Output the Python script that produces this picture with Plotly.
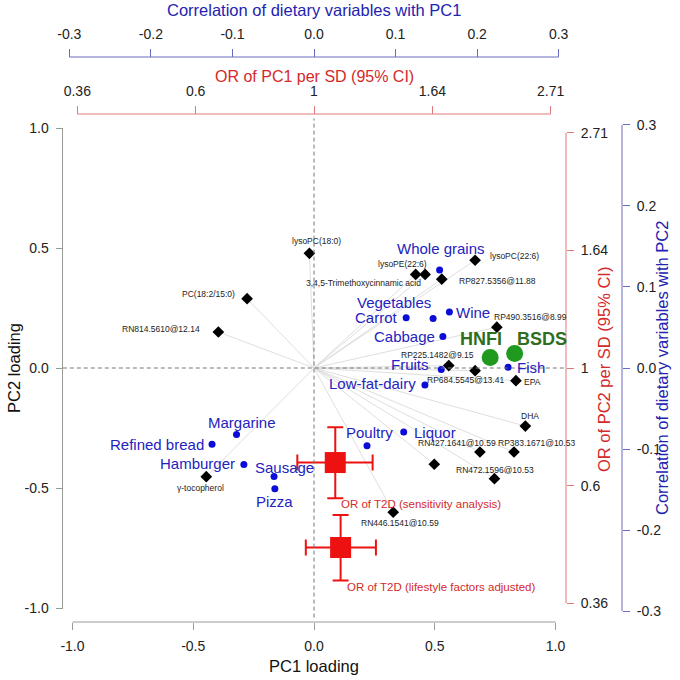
import numpy as np
import plotly.graph_objects as go

FONT = "Liberation Sans, Arial, sans-serif"

# ---------------- data ----------------
# metabolites: PC loadings
met_names = ["lysoPC(22:6)", "lysoPE(22:6)", "3,4,5-Trimethoxycinnamic acid", "RP827.5356@11.88",
             "RP490.3516@8.99", "RP225.1482@9.15", "RP684.5545@13.41", "EPA", "DHA",
             "RN427.1641@10.59", "RP383.1671@10.53", "RN472.1596@10.53", "",
             "RN446.1541@10.59", "γ-tocopherol", "PC(18:2/15:0)", "RN814.5610@12.14", "lysoPC(18:0)"]
met_pc1 = [0.667, 0.421, 0.460, 0.529, 0.757, 0.558, 0.667, 0.836, 0.875,
           0.687, 0.828, 0.747, 0.498, 0.328, -0.446, -0.277, -0.396, -0.019]
met_pc2 = [0.449, 0.390, 0.390, 0.370, 0.170, 0.010, -0.011, -0.053, -0.242,
           -0.350, -0.350, -0.461, -0.401, -0.601, -0.453, 0.289, 0.150, 0.478]

# dietary variables: correlations with PC1 / PC2
diet_names = ["Whole grains", "Vegetables", "Carrot", "Wine", "Cabbage", "Fruits", "Fish",
              "Low-fat-dairy", "Liquor", "Poultry", "Margarine", "Refined bread",
              "Hamburger", "Sausage", "Pizza"]
diet_r1 = [0.154, 0.146, 0.113, 0.166, 0.158, 0.156, 0.238, 0.136, 0.110, 0.065,
           -0.095, -0.125, -0.086, -0.049, -0.048]
diet_r2 = [0.121, 0.061, 0.062, 0.069, 0.039, -0.002, 0.001, -0.021, -0.079, -0.096,
           -0.082, -0.094, -0.119, -0.134, -0.149]

score_names = ["HNFI", "BSDS"]
score_r1 = [0.216, 0.246]
score_r2 = [0.013, 0.018]

# odds ratios of T2D per SD of PC1 / PC2
or_names = ["OR of T2D (sensitivity analysis)", "OR of T2D (lifestyle factors adjusted)"]
or_pc1 = [1.094, 1.119]
or_pc1_lo = [0.932, 0.966]
or_pc1_hi = [1.281, 1.299]
or_pc2 = [0.669, 0.466]
or_pc2_lo = [0.575, 0.405]
or_pc2_hi = [0.777, 0.535]

# ticks
pc_ticks = [-1.0, -0.5, 0.0, 0.5, 1.0]
pc_ticklabels = ["-1.0", "-0.5", "0.0", "0.5", "1.0"]
or_tick_logs = [-1.0, -0.5, 0.0, 0.5, 1.0]
or_ticklabels = ["0.36", "0.6", "1", "1.64", "2.71"]
corr_ticks = [-0.3, -0.2, -0.1, 0.0, 0.1, 0.2, 0.3]
corr_ticklabels = ["-0.3", "-0.2", "-0.1", "0.0", "0.1", "0.2", "0.3"]

# ---------------- scales / layout constants ----------------
W = H = 680
PC_R = 1.04
OR_K = 0.98            # PC units per ln(OR)
CORR_K = 1.013 / 0.3   # PC units per correlation unit
or_r = PC_R / OR_K / np.log(10)
corr_r = PC_R / CORR_K
or_tickvals = list(np.exp(or_tick_logs))

def px(x):
    return x / W

def py(y):
    return 1 - y / H

XDOM = [px(62.8), px(565.2)]
YDOM = [py(617.6), py(118.4)]
BOT_Y, LEFT_X = py(622), px(62.5)
TOP_RED_Y, TOP_BLUE_Y = py(114), py(57)
RIGHT_RED_X, RIGHT_BLUE_X = px(566), px(622)

def frac(v, lo, hi, dom):
    # position of an axis value as a fraction of the paper (for the axis baselines)
    return dom[0] + (v - lo) / (hi - lo) * (dom[1] - dom[0])

GRAY = "#9a9a9a"
RED_AX = "#e07a7a"
BLUE_AX = "#6b6bbf"
RED = "#ee1111"
BLUE_TXT = "#2323c0"
BLUE_PT = "#0c0cd8"
GREEN_PT = "#1f9a1f"
GREEN_TXT = "#2e6e1e"

fig = go.Figure()

# loading lines from origin
lx, ly = [], []
for a, b in zip(met_pc1, met_pc2):
    lx += [0, a, None]
    ly += [0, b, None]
fig.add_trace(go.Scatter(x=lx, y=ly, mode="lines", line=dict(color="#dadada", width=0.9),
                         hoverinfo="skip", showlegend=False))

fig.add_trace(go.Scatter(x=met_pc1, y=met_pc2, mode="markers",
                         marker=dict(symbol="diamond", size=9, color="black"),
                         showlegend=False))

fig.add_trace(go.Scatter(x=diet_r1, y=diet_r2, xaxis="x3", yaxis="y3", mode="markers",
                         marker=dict(size=7, color=BLUE_PT), showlegend=False))
fig.add_trace(go.Scatter(x=score_r1, y=score_r2, xaxis="x3", yaxis="y3", mode="markers",
                         marker=dict(size=17, color=GREEN_PT), showlegend=False))

fig.add_trace(go.Scatter(
    x=or_pc1, y=or_pc2, xaxis="x2", yaxis="y2", mode="markers",
    marker=dict(symbol="square", size=21, color=RED),
    error_x=dict(type="data", symmetric=False,
                 array=[h - c for h, c in zip(or_pc1_hi, or_pc1)],
                 arrayminus=[c - l for c, l in zip(or_pc1, or_pc1_lo)],
                 color=RED, thickness=2, width=8),
    error_y=dict(type="data", symmetric=False,
                 array=[h - c for h, c in zip(or_pc2_hi, or_pc2)],
                 arrayminus=[c - l for c, l in zip(or_pc2, or_pc2_lo)],
                 color=RED, thickness=2, width=8),
    showlegend=False))

# ---------------- labels ----------------
ann = []
met_off = {
    "lysoPC(22:6)": ("left", 13, 4), "lysoPE(22:6)": ("center", -13, 10),
    "3,4,5-Trimethoxycinnamic acid": ("right", -2, -9), "RP827.5356@11.88": ("left", 15, -2),
    "RP490.3516@8.99": ("left", -5, 10), "RP225.1482@9.15": ("center", -11, 11),
    "RP684.5545@13.41": ("center", -10, -9), "EPA": ("left", 6, -1), "DHA": ("center", 5, 10),
    "RN427.1641@10.59": ("center", -23, 9), "RP383.1671@10.53": ("center", 23, 9),
    "RN472.1596@10.53": ("center", 1, 9), "RN446.1541@10.59": ("center", 7, -11),
    "γ-tocopherol": ("center", -6, -11), "PC(18:2/15:0)": ("right", -10, 5),
    "RN814.5610@12.14": ("right", -16, 3), "lysoPC(18:0)": ("center", 7, 12),
}
for n, a, b in zip(met_names, met_pc1, met_pc2):
    if not n:
        continue
    xa, dx, dy = met_off[n]
    ann.append(dict(x=a, y=b, xref="x", yref="y", text=n, showarrow=False,
                    xanchor=xa, yanchor="middle", xshift=dx, yshift=dy,
                    font=dict(family=FONT, size=8.5, color="#222222")))

diet_off = {
    "Whole grains": ("center", 1, 21), "Vegetables": ("right", 0, 16), "Carrot": ("right", -6, 0),
    "Wine": ("left", 5, 0), "Cabbage": ("right", -6, 0), "Fruits": ("right", -10, 5),
    "Fish": ("left", 7, 0), "Low-fat-dairy": ("right", -7, 2), "Liquor": ("left", 8, 0),
    "Poultry": ("center", 2, 13), "Margarine": ("center", 5, 12), "Refined bread": ("right", -6, 0),
    "Hamburger": ("right", -7, 1), "Sausage": ("center", 10, 9), "Pizza": ("center", 0, -13),
}
for n, a, b in zip(diet_names, diet_r1, diet_r2):
    xa, dx, dy = diet_off[n]
    ann.append(dict(x=a, y=b, xref="x3", yref="y3", text=n, showarrow=False,
                    xanchor=xa, yanchor="middle", xshift=dx, yshift=dy,
                    font=dict(family=FONT, size=15, color=BLUE_TXT)))

score_off = {"HNFI": (-9, 18), "BSDS": (27, 14)}
for n, a, b in zip(score_names, score_r1, score_r2):
    dx, dy = score_off[n]
    ann.append(dict(x=a, y=b, xref="x3", yref="y3", text="<b>%s</b>" % n, showarrow=False,
                    xanchor="center", yanchor="middle", xshift=dx, yshift=dy,
                    font=dict(family=FONT, size=18, color=GREEN_TXT)))

for n, a, lo in zip(or_names, or_pc1, or_pc2_lo):
    ann.append(dict(x=np.log10(a), y=np.log10(lo), xref="x2", yref="y2", text=n, showarrow=False,
                    xanchor="left", yanchor="middle", xshift=4, yshift=-6,
                    font=dict(family=FONT, size=11.5, color="#d42a2a")))

# axis titles
ann += [
    dict(x=px(314), y=py(10), xref="paper", yref="paper", text="Correlation of dietary variables with PC1",
         showarrow=False, xanchor="center", yanchor="middle", font=dict(family=FONT, size=16.5, color="#2323b0")),
    dict(x=px(314), y=py(76), xref="paper", yref="paper", text="OR of PC1 per SD (95% CI)",
         showarrow=False, xanchor="center", yanchor="middle", font=dict(family=FONT, size=16, color="#d42a2a")),
    dict(x=px(314), y=py(666), xref="paper", yref="paper", text="PC1 loading",
         showarrow=False, xanchor="center", yanchor="middle", font=dict(family=FONT, size=16.5, color="#111")),
    dict(x=px(14), y=py(368), xref="paper", yref="paper", text="PC2 loading", textangle=-90,
         showarrow=False, xanchor="center", yanchor="middle", font=dict(family=FONT, size=16.5, color="#111")),
    dict(x=px(604), y=py(370), xref="paper", yref="paper", text="OR of PC2 per SD (95% CI)", textangle=-90,
         showarrow=False, xanchor="center", yanchor="middle", font=dict(family=FONT, size=16.5, color="#d42a2a")),
    dict(x=px(662), y=py(368), xref="paper", yref="paper", text="Correlation of dietary variables with PC2",
         textangle=-90, showarrow=False, xanchor="center", yanchor="middle",
         font=dict(family=FONT, size=16.5, color="#2323b0")),
]

# ---------------- shapes ----------------
lg_lo, lg_hi = np.log10(or_tickvals[0]), np.log10(or_tickvals[-1])
shapes = [
    dict(type="line", xref="paper", yref="paper", x0=frac(0, -PC_R, PC_R, XDOM), x1=frac(0, -PC_R, PC_R, XDOM),
         y0=YDOM[0], y1=YDOM[1], line=dict(color="#777", width=1, dash="4px,3px")),
    dict(type="line", xref="paper", yref="paper", x0=XDOM[0], x1=XDOM[1],
         y0=frac(0, -PC_R, PC_R, YDOM), y1=frac(0, -PC_R, PC_R, YDOM),
         line=dict(color="#777", width=1, dash="4px,3px")),
    # bottom / left PC axes
    dict(type="line", xref="paper", yref="paper",
         x0=frac(pc_ticks[0], -PC_R, PC_R, XDOM), x1=frac(pc_ticks[-1], -PC_R, PC_R, XDOM),
         y0=BOT_Y, y1=BOT_Y, line=dict(color=GRAY, width=1)),
    dict(type="line", xref="paper", yref="paper", x0=LEFT_X, x1=LEFT_X,
         y0=frac(pc_ticks[0], -PC_R, PC_R, YDOM), y1=frac(pc_ticks[-1], -PC_R, PC_R, YDOM),
         line=dict(color=GRAY, width=1)),
    # OR axes
    dict(type="line", xref="paper", yref="paper",
         x0=frac(lg_lo, -or_r, or_r, XDOM), x1=frac(lg_hi, -or_r, or_r, XDOM),
         y0=TOP_RED_Y, y1=TOP_RED_Y, line=dict(color=RED_AX, width=1)),
    dict(type="line", xref="paper", yref="paper", x0=RIGHT_RED_X, x1=RIGHT_RED_X,
         y0=frac(lg_lo, -or_r, or_r, YDOM), y1=frac(lg_hi, -or_r, or_r, YDOM),
         line=dict(color=RED_AX, width=1)),
    # correlation axes
    dict(type="line", xref="paper", yref="paper",
         x0=frac(corr_ticks[0], -corr_r, corr_r, XDOM), x1=frac(corr_ticks[-1], -corr_r, corr_r, XDOM),
         y0=TOP_BLUE_Y, y1=TOP_BLUE_Y, line=dict(color=BLUE_AX, width=1)),
    dict(type="line", xref="paper", yref="paper", x0=RIGHT_BLUE_X, x1=RIGHT_BLUE_X,
         y0=frac(corr_ticks[0], -corr_r, corr_r, YDOM), y1=frac(corr_ticks[-1], -corr_r, corr_r, YDOM),
         line=dict(color=BLUE_AX, width=1)),
]

tickfont = dict(family=FONT, size=14, color="#222")
common = dict(showgrid=False, zeroline=False, showline=False, ticks="outside", tickfont=tickfont,
              ticklabelstandoff=4, automargin=False)

fig.update_layout(
    template="none",
    width=W, height=H, margin=dict(l=0, r=0, t=0, b=0, autoexpand=False),
    paper_bgcolor="white", plot_bgcolor="rgba(0,0,0,0)", showlegend=False,
    xaxis=dict(domain=XDOM, range=[-PC_R, PC_R], anchor="free", position=BOT_Y, side="bottom",
               tickvals=pc_ticks, ticktext=pc_ticklabels, ticklen=7, tickcolor=GRAY, **common),
    yaxis=dict(domain=YDOM, range=[-PC_R, PC_R], anchor="free", position=LEFT_X, side="left",
               tickvals=pc_ticks, ticktext=pc_ticklabels, ticklen=7, tickcolor=GRAY, **common),
    xaxis2=dict(overlaying="x", type="log", range=[-or_r, or_r], anchor="free", position=TOP_RED_Y,
                side="top", tickvals=or_tickvals, ticktext=or_ticklabels, ticklen=8, tickcolor=RED_AX, **common),
    yaxis2=dict(overlaying="y", type="log", range=[-or_r, or_r], anchor="free", position=RIGHT_RED_X,
                side="right", tickvals=or_tickvals, ticktext=or_ticklabels, ticklen=7, tickcolor=RED_AX, **common),
    xaxis3=dict(overlaying="x", range=[-corr_r, corr_r], anchor="free", position=TOP_BLUE_Y,
                side="top", tickvals=corr_ticks, ticktext=corr_ticklabels, ticklen=8, tickcolor=BLUE_AX, **common),
    yaxis3=dict(overlaying="y", range=[-corr_r, corr_r], anchor="free", position=RIGHT_BLUE_X,
                side="right", tickvals=corr_ticks, ticktext=corr_ticklabels, ticklen=7, tickcolor=BLUE_AX, **common),
    annotations=ann, shapes=shapes,
)

fig.write_html("out.html", config={"displayModeBar": False},
               post_script="document.body.style.margin='0';")
